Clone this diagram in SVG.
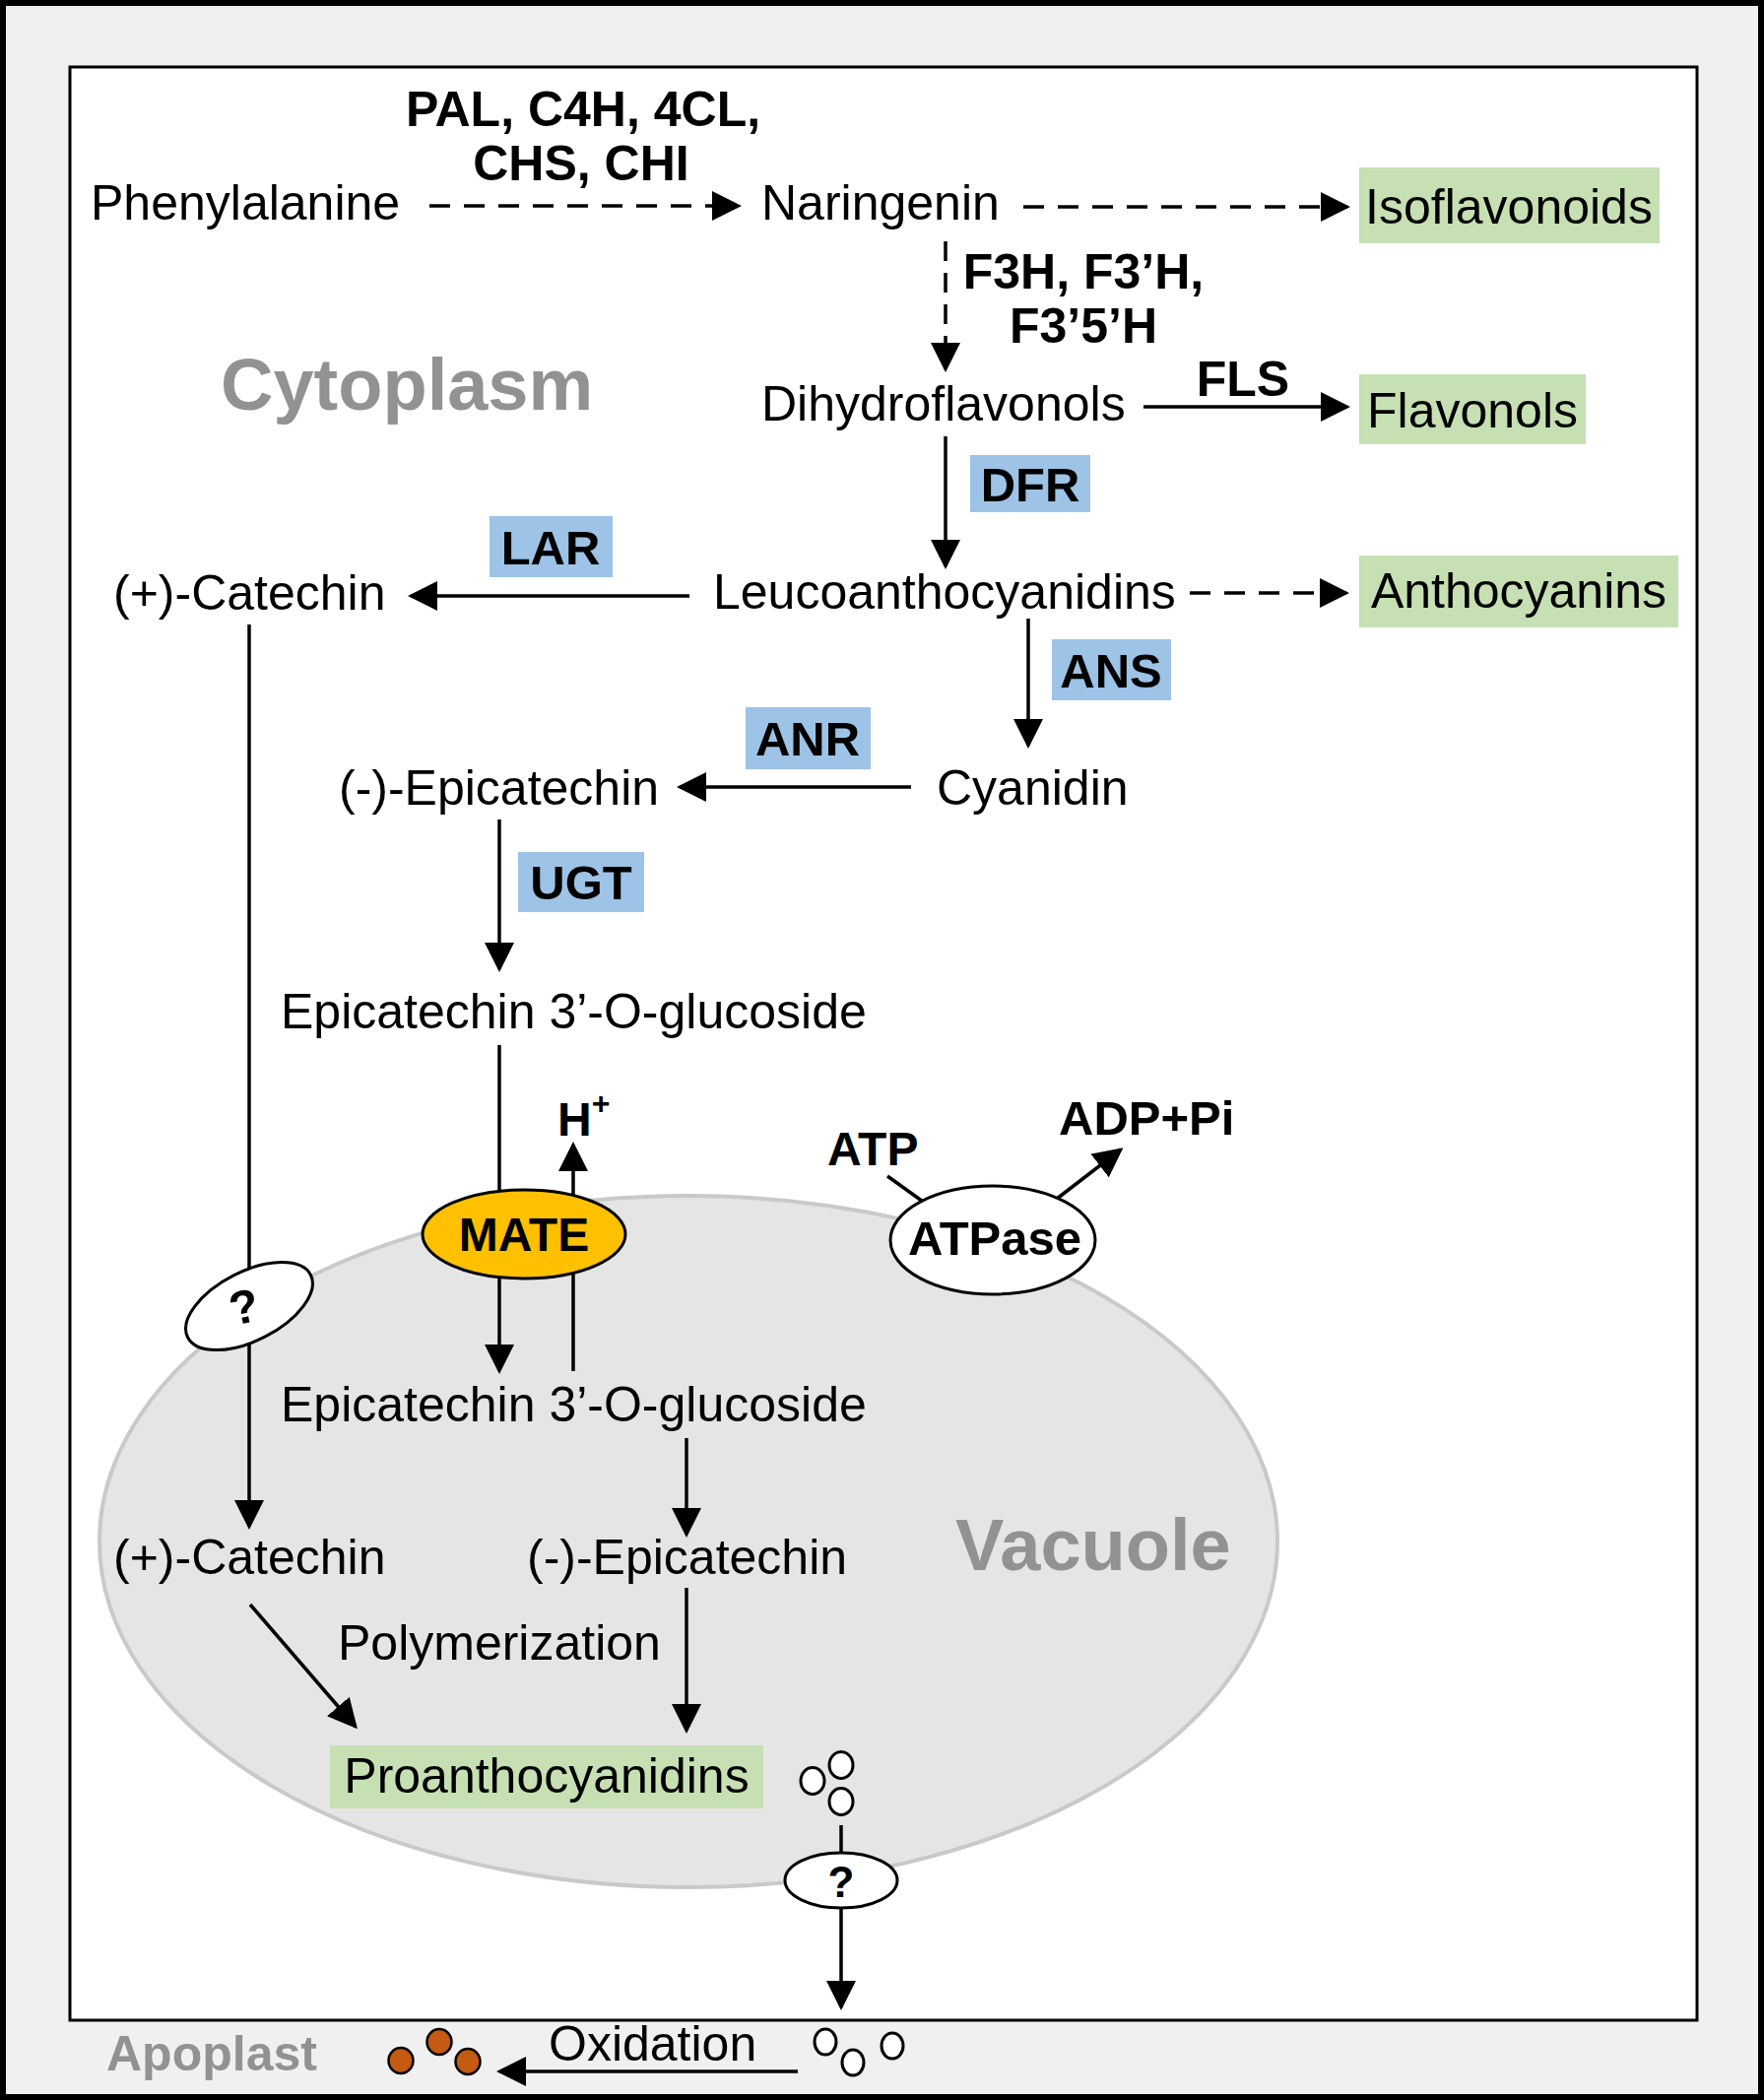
<svg xmlns="http://www.w3.org/2000/svg" width="1791" height="2132" viewBox="0 0 1791 2132">
<defs>
<marker id="ah" viewBox="0 0 30 30" markerWidth="30" markerHeight="30" refX="27" refY="15" orient="auto" markerUnits="userSpaceOnUse">
<path d="M0,0 L30,15 L0,30 z" fill="#000"/>
</marker>
<style>
text{font-family:"Liberation Sans",Arial,Helvetica,sans-serif;fill:#000}
.t{font-size:50px}
.b{font-size:49px;font-weight:bold}
.c{text-anchor:middle}
.region{font-weight:bold;fill:#929292}
.green{fill:#C6E0B4}
.blue{fill:#9DC3E6}
.ln{stroke:#000;stroke-width:3.5;fill:none}
.arr{stroke:#000;stroke-width:3.5;fill:none;marker-end:url(#ah)}
.dash{stroke-dasharray:21 14}
.dot{fill:#fff;stroke:#000;stroke-width:3}
.ox{fill:#C55A11;stroke:#000;stroke-width:2.5}
</style>
</defs>

<rect x="3" y="3" width="1785" height="2126" fill="#F0F0F0" stroke="#000" stroke-width="6"/>
<rect x="71" y="68" width="1652" height="1983" fill="#fff" stroke="#000" stroke-width="3"/>

<g id="vacuole">
<ellipse cx="699" cy="1565" rx="598" ry="351" fill="#E5E5E5" stroke="#C9C9C9" stroke-width="4"/>
<text x="970" y="1594" class="region" style="font-size:74px">Vacuole</text>
</g>

<text id="cytoplasm" x="224" y="416" class="region" style="font-size:74px">Cytoplasm</text>
<text id="apoplast" x="108" y="2102" class="region" style="font-size:50px">Apoplast</text>

<g id="connectors">
<line class="arr dash" x1="436" y1="209" x2="750" y2="209"/>
<line class="arr dash" x1="1039" y1="210" x2="1368" y2="210"/>
<line class="arr" x1="960" y1="245" x2="960" y2="375" style="stroke-dasharray:20 12"/>
<line class="arr" x1="1161" y1="413" x2="1368" y2="413"/>
<line class="arr" x1="960" y1="443" x2="960" y2="575"/>
<line class="arr" x1="700" y1="605" x2="417" y2="605"/>
<line class="arr dash" x1="1208" y1="602" x2="1367" y2="602"/>
<line class="arr" x1="1044" y1="628" x2="1044" y2="757"/>
<line class="arr" x1="925" y1="799" x2="690" y2="799"/>
<line class="arr" x1="507" y1="832" x2="507" y2="984"/>
<line class="ln" x1="507" y1="1061" x2="507" y2="1212"/>
<line class="arr" x1="507" y1="1296" x2="507" y2="1392"/>
<line class="arr" x1="582" y1="1392" x2="582" y2="1162"/>
<line class="ln" x1="901" y1="1194" x2="940" y2="1222"/>
<line class="arr" x1="1073" y1="1217" x2="1138" y2="1167"/>
<line class="arr" x1="253" y1="634" x2="253" y2="1550"/>
<line class="arr" x1="697" y1="1460" x2="697" y2="1558"/>
<line class="arr" x1="254" y1="1629" x2="361" y2="1753"/>
<line class="arr" x1="697" y1="1612" x2="697" y2="1757"/>
<line class="ln" x1="854" y1="1853" x2="854" y2="1884"/>
<line class="arr" x1="854" y1="1937" x2="854" y2="2038"/>
<line class="arr" x1="810" y1="2103" x2="507" y2="2103"/>
</g>

<g id="enzyme-labels">
<text x="592" y="128" class="b c" style="font-size:50px">PAL, C4H, 4CL,</text>
<text x="590" y="183" class="b c" style="font-size:50px">CHS, CHI</text>
<text x="1100" y="293" class="b c" style="font-size:50px">F3H, F3’H,</text>
<text x="1100" y="348" class="b c" style="font-size:50px">F3’5’H</text>
<text x="1262" y="402" class="b c" style="font-size:50px">FLS</text>
</g>

<g id="n-phenylalanine"><text x="92" y="223" class="t">Phenylalanine</text></g>
<g id="n-naringenin"><text x="773" y="223" class="t">Naringenin</text></g>
<g id="n-isoflavonoids"><rect x="1380" y="170" width="305" height="77" class="green"/><text x="1532" y="227" class="t c">Isoflavonoids</text></g>
<g id="n-dihydroflavonols"><text x="773" y="427" class="t">Dihydroflavonols</text></g>
<g id="n-flavonols"><rect x="1380" y="380" width="230" height="71" class="green"/><text x="1495" y="434" class="t c">Flavonols</text></g>
<g id="e-dfr"><rect x="985" y="462" width="122" height="58" class="blue"/><text x="1046" y="509" class="b c">DFR</text></g>
<g id="e-lar"><rect x="497" y="524" width="125" height="62" class="blue"/><text x="559" y="573" class="b c">LAR</text></g>
<g id="n-catechin"><text x="115" y="619" class="t">(+)-Catechin</text></g>
<g id="n-leuco"><text x="724" y="618" class="t">Leucoanthocyanidins</text></g>
<g id="n-anthocyanins"><rect x="1380" y="564" width="324" height="73" class="green"/><text x="1542" y="617" class="t c">Anthocyanins</text></g>
<g id="e-ans"><rect x="1068" y="649" width="121" height="62" class="blue"/><text x="1128" y="698" class="b c">ANS</text></g>
<g id="e-anr"><rect x="757" y="718" width="127" height="63" class="blue"/><text x="820" y="767" class="b c">ANR</text></g>
<g id="n-epicatechin"><text x="344" y="817" class="t">(-)-Epicatechin</text></g>
<g id="n-cyanidin"><text x="951" y="817" class="t">Cyanidin</text></g>
<g id="e-ugt"><rect x="526" y="865" width="128" height="61" class="blue"/><text x="590" y="913" class="b c">UGT</text></g>
<g id="n-glucoside"><text x="285" y="1044" class="t">Epicatechin 3’-O-glucoside</text></g>

<g id="n-hplus"><text x="566" y="1153" class="b" style="font-size:48px">H<tspan dy="-22" style="font-size:32px">+</tspan></text></g>
<g id="n-mate"><ellipse cx="532" cy="1253" rx="103" ry="45" fill="#FFC000" stroke="#000" stroke-width="3"/><text x="532" y="1270" class="b c" style="font-size:48px">MATE</text></g>
<g id="n-atp"><text x="840" y="1183" class="b" style="font-size:48px">ATP</text></g>
<g id="n-adp"><text x="1075" y="1152" class="b" style="font-size:49px">ADP+Pi</text></g>
<g id="n-atpase"><ellipse cx="1008" cy="1259" rx="104" ry="55" fill="#fff" stroke="#000" stroke-width="3"/><text x="1010" y="1274" class="b c" style="font-size:49px">ATPase</text></g>

<g id="n-transporter1"><ellipse cx="0" cy="0" rx="70" ry="35" transform="translate(253,1326) rotate(-27)" fill="#fff" stroke="#000" stroke-width="3"/><text x="0" y="0" class="b c" style="font-size:48px" transform="translate(251,1343) rotate(-12)">?</text></g>

<g id="n-glucoside-vac"><text x="285" y="1443" class="t">Epicatechin 3’-O-glucoside</text></g>
<g id="n-catechin-vac"><text x="115" y="1598" class="t">(+)-Catechin</text></g>
<g id="n-epicatechin-vac"><text x="535" y="1598" class="t">(-)-Epicatechin</text></g>
<g id="l-polymerization"><text x="343" y="1685" class="t">Polymerization</text></g>
<g id="n-proantho"><rect x="335" y="1772" width="440" height="64" class="green"/><text x="555" y="1820" class="t c">Proanthocyanidins</text></g>

<g id="pa-vacuole">
<ellipse cx="825" cy="1808" rx="12" ry="13.5" class="dot"/>
<ellipse cx="854" cy="1792" rx="12" ry="13.5" class="dot"/>
<ellipse cx="854" cy="1829" rx="12" ry="13.5" class="dot"/>
</g>
<g id="n-transporter2"><ellipse cx="854" cy="1909" rx="57" ry="28" fill="#fff" stroke="#000" stroke-width="3"/><text x="854" y="1926" class="b c" style="font-size:44px">?</text></g>

<g id="pa-apoplast">
<ellipse cx="838" cy="2073" rx="11" ry="13" class="dot"/>
<ellipse cx="866" cy="2094" rx="11" ry="13" class="dot"/>
<ellipse cx="906" cy="2077" rx="11" ry="13" class="dot"/>
</g>
<g id="l-oxidation"><text x="557" y="2092" class="t">Oxidation</text></g>
<g id="pa-oxidized">
<ellipse cx="407" cy="2092" rx="12.5" ry="13" class="ox"/>
<ellipse cx="446" cy="2073" rx="12.5" ry="13" class="ox"/>
<ellipse cx="475" cy="2093" rx="12.5" ry="13" class="ox"/>
</g>
</svg>
